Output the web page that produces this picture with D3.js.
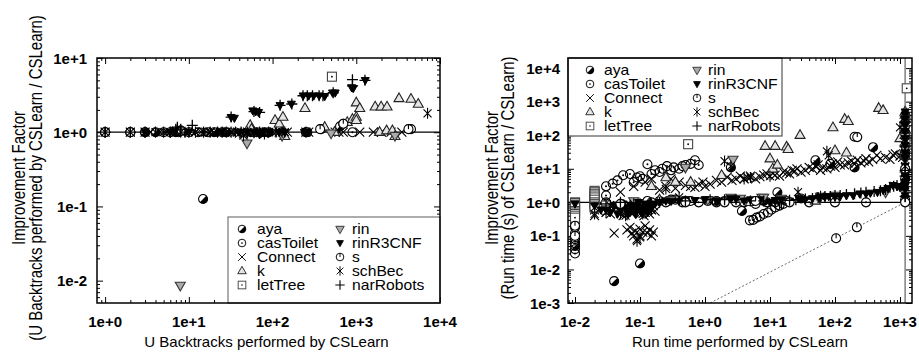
<!DOCTYPE html>
<html>
<head>
<meta charset="utf-8">
<script src="https://cdn.jsdelivr.net/npm/d3@7"></script>
<style>
  body { margin: 0; background: #fff; }
  text { font-family: "Liberation Sans", Arial, Helvetica, sans-serif; fill: #000; }
</style>
</head>
<body>
<svg id="chart" width="919" height="354"></svg>
<script>
// series names, legend order (col 1 then col 2)
const seriesNames = ["aya", "casToilet", "Connect", "k", "letTree", "rin", "rinR3CNF", "s", "schBec", "narRobots"];

// ---- left panel: backtracks vs improvement factor ----
const btAya = [[1,1],[2,1],[3,1],[4,1],[7,1],[8,1.05],[14.8,0.126],[20,1],[28,1],[55,1],[90,1],[250,1],[640,1.2],[700,1.3]];
const btCasToilet = [[1,1],[2,1],[3,1],[5,1],[6,1],[7.5,1],[10,1],[13,1],[17,1],[25,1],[65,1],[80,1],[130,1],[260,1],[380,1.1],[900,1],[4500,1.1]];
const btConnect = [[1,1],[2,1],[3,1],[3.5,1],[4.5,1],[5.5,1],[7,1],[9,1],[12,1],[14,1],[16,1],[18,1],[20,1],[24,1],[28,1],[33,1],[38,1],[45,0.95],[50,1],[55,1],[65,1],[72,1],[85,1],[100,1],[120,1],[150,1],[250,1],[270,1],[560,1],[620,1],[700,1],[1100,1],[1600,1],[2000,1],[2600,1],[3500,1]];
const btK = [[54,1.24],[56,1.1],[107,1.45],[120,1.3],[133,1.6],[140,0.88],[244,2.1],[420,1.17],[550,1.0],[780,1.36],[900,1.5],[1000,1.6],[1000,1.45],[1000,2.5],[1100,2.1],[1680,2.2],[1900,1.0],[1980,2.2],[2300,1.05],[2330,2.2],[2700,1.05],[2900,0.88],[3240,2.85],[4500,2.8],[5500,2.4]];
const btLetTree = [[512,5.6]];
const btRin = [[7.9,0.0086],[49.5,0.71],[60,1.0],[130,0.9],[500,0.97],[2900,0.9]];
const btRinR3CNF = [[1,1],[2,1],[3,1],[6,1],[7,1],[8,1.05],[9,1],[10,1],[25,1],[32,1.59],[35,1.55],[40,1],[50,1],[58,1.95],[60,1],[63,1.9],[68,1.85],[70,0.93],[75,1],[90,1],[120,1],[123,2.3],[140,1],[168,2.4],[232,3.1],[240,1],[260,1],[270,3.1],[310,3.1],[360,3.1],[420,3.05],[520,3.4],[560,3.4],[880,4.0],[920,3.9],[1280,5.0]];
const btS = [[1,1],[2,1],[8,1.05],[370,1.1],[700,1.3],[4200,1.1]];
const btSchBec = [[1,1],[2,1],[3,1],[4,1],[5,1],[6,1],[7,1.05],[8,1],[10,1],[12,1],[15,1],[18,1],[22,1],[25,1],[28,1],[32,1],[36,1],[42,1],[45,0.9],[50,1],[60,1],[70,1],[80,0.95],[90,1],[110,1],[130,1],[140,1],[250,1],[7100,1.8]];
const btNarRobots = [[1,1],[2,1],[3,1],[6,1],[7,1.1],[7.3,1.17],[8,1.1],[9,1.0],[11,1.24],[32,1.6],[60,1.9],[70,1.85],[123,2.3],[170,2.4],[231,3.1],[260,3.1],[300,3.1],[360,3.1],[400,3.1],[530,3.4],[900,4.2],[900,5.1],[1270,5.0]];

// ---- right panel: run time vs improvement factor ----
const rtAya = [[0.01,0.9],[0.01,0.45],[0.01,0.06],[0.01,0.05],[0.02,1.2],[0.03,1.0],[0.04,0.0045],[0.05,0.8],[0.08,0.7],[0.1,0.015],[0.13,1.1],[0.3,1.2],[0.5,1.1],[1.5,1.1],[2.5,11],[3.7,0.55],[8,1.1],[13,2.0],[30,1.3],[50,18],[85,14],[200,11],[385,44],[1200,30],[1200,5],[1200,120]];
const rtCasToilet = [[0.01,0.03],[0.01,0.04],[0.01,0.06],[0.01,0.08],[0.01,0.12],[0.01,0.18],[0.01,0.25],
  [0.03,3.0],[0.03,1.6],[0.038,3.6],[0.045,4.5],[0.055,6.4],[0.07,7],[0.08,4],[0.09,5.5],[0.1,6],[0.11,5],[0.13,13.6],[0.15,7],[0.17,9],[0.2,8],[0.22,10],[0.26,12],[0.3,9],[0.33,11],[0.4,10],[0.45,12],[0.5,13],[0.6,14],[0.7,18],[0.8,13],
  [0.15,1.0],[0.2,1.1],[0.25,1.0],[0.35,1.2],[0.45,1.0],[0.6,1.1],[0.8,1.0],[1.1,1.1],[1.5,1.0],[2.0,1.1],[3,1.0],[4,1.0],[6,0.9],[9,1.0],[12,1.0],[18,1.1],[40,1.0],[100,1.0],[300,1.0],
  [4.9,0.29],[5.5,0.3],[6.2,0.35],[7,0.38],[8,0.45],[9.3,0.5],[10.5,0.6],[12,0.7],[14,0.8],[16,0.9],[200,90],[1200,1.2]];
const rtConnect = [[0.01,0.8],[0.02,0.4],[0.02,0.6],[0.02,1.0],[0.025,0.9],[0.03,0.5],[0.03,0.7],[0.035,0.45],[0.04,0.6],[0.04,0.12],[0.045,0.8],[0.05,0.5],[0.055,0.4],[0.06,0.55],[0.065,0.9],[0.07,0.6],[0.075,0.45],[0.08,0.5],[0.085,0.7],[0.095,0.55],[0.1,0.45],[0.105,0.8],[0.115,0.4],[0.12,0.5],[0.125,0.65],[0.14,0.45],[0.15,0.6],[0.16,0.8],[0.17,0.55],
  [0.063,0.15],[0.07,0.18],[0.075,0.12],[0.08,0.1],[0.085,0.14],[0.09,0.08],[0.1,0.16],[0.1,0.1],[0.11,0.13],[0.12,0.2],[0.13,0.12],[0.14,0.15],[0.16,0.13],[0.15,0.1],
  [0.05,2.0],[0.08,3],[0.12,4],[0.15,5],[0.2,2.3],[0.25,3],[0.3,5],[0.35,2.6],[0.4,4],[0.5,3.2],[0.6,3],[0.7,2.8],[0.8,3.5],[0.93,4],[1.0,3.0],[1.2,3.5],[1.5,4.5],[1.8,4],[2.2,5.6],[2.6,4.5],[3,5],[3.5,6],[4,5],[4.5,5.5],[5,6],[6,5],[7,5.8],[8,6.5],[9,7],[11,7.3],[12,6.5],[14,6],[16,8],[18,7.5],[20,7],[22,9],[24,8.5],[26,10],[30,8],[35,9],[40,11],[45,10],[50,12],[55,13],[60,9],[65,11],[75,10],[85,12],[90,14],[100,11],[110,16],[120,13],[140,13],[160,15],[180,17],[200,14],[220,18],[250,15],[280,17],[300,20],[330,16],[380,19],[440,25],[500,20],[600,22],[700,19],[780,26],[850,28],[1000,24],[1100,22],[1180,3],[1200,6],[1200,15],[1200,40],[1220,70]];
const rtK = [[0.15,3.0],[0.2,1.2],[0.25,5.5],[0.35,4],[0.6,4],[1.8,6.4],[5,1.0],[8.4,47],[10,20],[11,10],[12,47],[13,13],[18,45],[19,38],[29,100],[50,1.1],[93,170],[100,35],[141,300],[150,30],[160,260],[470,640],[550,550],[1000,80],[1200,500],[1200,400],[1200,300],[1200,150],[1200,100],[1200,60],[1200,40],[1200,25],[1200,10]];
const rtLetTree = [[0.01,1.0],[0.01,0.95],[0.01,0.85],[0.01,0.75],[0.01,0.7],[0.01,0.55],[0.01,0.5],[0.01,0.45],[0.01,0.4],[0.01,0.35],[0.02,2.2],[0.02,2.0],[0.02,1.8],[0.02,1.6],[0.02,1.4],[0.02,1.2],[0.02,1.0],[0.02,0.9],[0.02,0.8],[0.02,0.7],[0.03,0.8],[0.03,0.6],[0.55,54],[1270,2500]];
const rtRin = [[0.08,1.1],[0.3,1.2],[0.5,11],[1.1,1.2],[2.5,1.4],[2.7,19],[3.5,1.3],[7.5,1.4],[8,1.4],[15,1.3],[60,1.5],[100,1.6],[600,2.0],[1200,300],[1200,200],[1200,150],[1200,90],[1200,40],[1200,20]];
const rtRinR3CNF = [[0.01,0.9],[0.02,0.8],[0.025,0.6],[0.03,0.6],[0.035,0.5],[0.04,0.8],[0.045,0.45],[0.05,0.6],[0.055,0.9],[0.06,0.7],[0.065,0.45],[0.07,0.5],[0.075,0.8],[0.08,0.6],[0.085,0.45],[0.09,0.8],[0.095,1.0],[0.1,0.6],[0.105,0.5],[0.11,0.7],[0.12,0.9],[0.13,0.5],[0.14,0.6],[0.15,0.7],[0.17,0.9],[0.2,1.0],[0.25,1.1],[0.3,1.1],[0.4,1.1],[0.5,1.2],[0.7,1.15],[1.0,1.2],[1.5,1.1],[2,1.1],[2.5,1.3],[3,1.25],[4,1.1],[5,1.2],[7,1.2],[10,1.0],[12,1.15],[15,1.2],[20,1.1],[28,1.3],[35,1.2],[45,1.3],[58,1.4],[70,1.45],[80,1.5],[100,1.5],[120,1.5],[150,1.6],[190,1.6],[240,1.8],[300,1.8],[350,1.9],[450,2.0],[550,2.3],[650,2.6],[780,3.2],[900,3.0],[1000,2.8],
  [1200,1.0],[1200,1.3],[1200,1.6],[1200,2.5],[1200,3],[1200,4],[1200,6],[1200,8],[1200,12],[1200,20],[1200,30],[1200,50],[1200,80],[1200,130],[1200,200],[1200,300],[1200,400],[1200,500]];
const rtS = [[0.01,0.2],[0.01,0.1],[0.05,0.9],[0.5,1.0],[2,1.0],[6,1.1],[20,1.0],[104,0.085],[217,0.18],[220,88],[1200,1.0],[1200,10]];
const rtSchBec = [[0.02,0.45],[0.02,0.7],[0.03,0.5],[0.035,0.8],[0.05,0.45],[0.06,0.4],[0.07,0.6],[0.08,0.9],[0.09,0.07],[0.1,0.09],[0.11,0.45],[0.12,0.5],[0.13,0.8],[0.15,0.6],[0.25,2.5],[0.4,1.4],[2.0,17],[2.5,12],[4,5],[5,5.5],[10,6],[27,2.0],[60,1.5],[75,33],[80,25],[1000,170],[1200,350],[1200,180],[1200,100],[1200,60],[1200,30],[1200,12],[1200,5],[1200,2]];
const rtNarRobots = [[0.03,0.9],[0.05,1.0],[0.1,0.9],[0.2,1.0],[0.5,1.1],[1.2,1.2],[2,1.2],[3,1.2],[5,1.1],[8,1.1],[12,1.0],[15,0.9],[20,1.15],[25,1.2],[35,1.25],[45,1.3],[55,1.4],[70,1.5],[85,1.5],[100,1.6],[120,1.6],[150,1.7],[200,1.8],[250,1.9],[300,2.0],[400,2.1],[500,2.2],[600,2.4],[700,2.8],[800,3.0],[900,3.2],[1100,3.5],[1200,1.5],[1200,2.2],[1200,6],[1200,9],[1200,45],[1200,250]];

// reference lines of the right panel (timeout bound)
const timeoutX = 1200;
const timeoutLine = [[1.2, 0.001], [1200, 1]];

const btSeries = [btAya, btCasToilet, btConnect, btK, btLetTree, btRin, btRinR3CNF, btS, btSchBec, btNarRobots];
const rtSeries = [rtAya, rtCasToilet, rtConnect, rtK, rtLetTree, rtRin, rtRinR3CNF, rtS, rtSchBec, rtNarRobots];

const svg = d3.select("#chart");

function fmtExp(d) {
  const e = Math.round(Math.log10(d));
  return "1e" + (e < 0 ? "-" : "+") + Math.abs(e);
}

function drawMarker(g, type) {
  const r = 4.5;
  const sw = 1.1;
  switch (type) {
    case "aya":
      g.append("circle").attr("r", r).attr("fill", "#fff").attr("stroke", "#000").attr("stroke-width", sw);
      g.append("path").attr("d", d3.arc()({innerRadius: 0, outerRadius: r, startAngle: Math.PI / 4, endAngle: Math.PI * 5 / 4})).attr("fill", "#000");
      break;
    case "casToilet":
      g.append("circle").attr("r", r).attr("fill", "none").attr("stroke", "#000").attr("stroke-width", sw);
      g.append("circle").attr("r", 1).attr("fill", "#000");
      break;
    case "Connect":
      g.append("path").attr("d", "M-4.5,-4.5L4.5,4.5M-4.5,4.5L4.5,-4.5").attr("stroke", "#000").attr("stroke-width", sw);
      break;
    case "k":
      g.append("path").attr("d", "M0,-5.5L5,3.2L-5,3.2Z").attr("fill", "#e4e4e4").attr("stroke", "#222").attr("stroke-width", sw);
      break;
    case "letTree":
      g.append("rect").attr("x", -4.5).attr("y", -4.5).attr("width", 9).attr("height", 9).attr("fill", "#fff").attr("stroke", "#444").attr("stroke-width", sw);
      g.append("circle").attr("r", 0.9).attr("fill", "#000");
      break;
    case "rin":
      g.append("path").attr("d", "M-5,-3.2L5,-3.2L0,5.5Z").attr("fill", "#aaa").attr("stroke", "#333").attr("stroke-width", sw);
      break;
    case "rinR3CNF":
      g.append("path").attr("d", "M-4,-2.8L4,-2.8L0,4.4Z").attr("fill", "#000").attr("stroke", "#000");
      break;
    case "s":
      g.append("circle").attr("r", r).attr("fill", "#fff").attr("stroke", "#000").attr("stroke-width", sw);
      g.append("path").attr("d", "M0,-4.5V0").attr("stroke", "#000").attr("stroke-width", sw);
      break;
    case "schBec":
      g.append("path").attr("d", "M-4,-4L4,4M-4,4L4,-4M0,-5.6V5.6").attr("stroke", "#000").attr("stroke-width", sw);
      break;
    case "narRobots":
      g.append("path").attr("d", "M-5.5,0H5.5M0,-5.5V5.5").attr("stroke", "#000").attr("stroke-width", 1.3);
      break;
  }
}

function drawPanel(cfg) {
  const x = d3.scaleLog().domain(cfg.xDomain).range([cfg.left, cfg.right]);
  const y = d3.scaleLog().domain(cfg.yDomain).range([cfg.bottom, cfg.top]);
  const panel = svg.append("g");
  const clipId = "clip" + cfg.id;
  svg.append("clipPath").attr("id", clipId).append("rect")
    .attr("x", cfg.left).attr("y", cfg.top)
    .attr("width", cfg.right - cfg.left).attr("height", cfg.bottom - cfg.top);

  // minor + major ticks on all four sides, pointing inward
  const minor = (dom, majors) => {
    const out = [];
    majors.concat([majors[0] / 10, majors[majors.length - 1] * 10]).forEach(m => {
      for (let k = 2; k <= 9; k++) {
        const v = m * k;
        if (v > dom[0] && v < dom[1]) out.push(v);
      }
    });
    return out;
  };
  const xMinor = minor(cfg.xDomain, cfg.xTicks);
  const yMinor = minor(cfg.yDomain, cfg.yTicks);
  const tickAxes = [
    [d3.axisBottom(x).tickValues(cfg.xTicks).tickSize(-6), cfg.bottom, "x"],
    [d3.axisBottom(x).tickValues(xMinor).tickSize(-3), cfg.bottom, "x"],
    [d3.axisTop(x).tickValues(cfg.xTicks).tickSize(-6), cfg.top, "x"],
    [d3.axisTop(x).tickValues(xMinor).tickSize(-3), cfg.top, "x"],
    [d3.axisLeft(y).tickValues(cfg.yTicks).tickSize(-6), cfg.left, "y"],
    [d3.axisLeft(y).tickValues(yMinor).tickSize(-3), cfg.left, "y"],
    [d3.axisRight(y).tickValues(cfg.yTicks).tickSize(-6), cfg.right, "y"],
    [d3.axisRight(y).tickValues(yMinor).tickSize(-3), cfg.right, "y"]
  ];
  tickAxes.forEach(([ax, pos, dir]) => {
    const g = panel.append("g")
      .attr("transform", dir === "x" ? `translate(0,${pos})` : `translate(${pos},0)`)
      .call(ax.tickSizeOuter(0).tickFormat(""));
    g.select(".domain").remove();
    g.selectAll("line").attr("stroke", "#000");
  });

  // tick labels
  panel.selectAll(".xl").data(cfg.xTicks).join("text")
    .attr("x", d => x(d)).attr("y", cfg.bottom + 24)
    .attr("text-anchor", "middle").attr("font-size", 15).attr("font-weight", "bold")
    .text(fmtExp);
  panel.selectAll(".yl").data(cfg.yTicks).join("text")
    .attr("x", cfg.left - cfg.yLabelGap).attr("y", d => y(d))
    .attr("text-anchor", "end").attr("dominant-baseline", "central")
    .attr("font-size", 15).attr("font-weight", "bold")
    .text(fmtExp);

  // reference lines
  const plot = panel.append("g").attr("clip-path", `url(#${clipId})`);
  plot.append("line").attr("x1", cfg.left).attr("x2", cfg.right)
    .attr("y1", y(1)).attr("y2", y(1)).attr("stroke", "#000").attr("stroke-width", 1.2);
  if (cfg.timeout) {
    plot.append("line").attr("x1", x(timeoutX)).attr("x2", x(timeoutX))
      .attr("y1", cfg.top).attr("y2", cfg.bottom).attr("stroke", "#888").attr("stroke-width", 1.6);
    plot.append("path").datum(timeoutLine)
      .attr("d", d3.line().x(d => x(d[0])).y(d => y(d[1])))
      .attr("fill", "none").attr("stroke", "#444").attr("stroke-width", 0.8).attr("stroke-dasharray", "2,2");
  }

  // points
  cfg.series.forEach((pts, i) => {
    const type = seriesNames[i];
    plot.append("g").selectAll("g").data(pts).join("g")
      .attr("transform", d => `translate(${x(d[0])},${y(d[1])})`)
      .each(function () { drawMarker(d3.select(this), type); });
  });

  // legend
  const lg = panel.append("g");
  lg.append("rect").attr("x", cfg.legend.x0).attr("y", cfg.legend.y0)
    .attr("width", cfg.legend.x1 - cfg.legend.x0).attr("height", cfg.legend.y1 - cfg.legend.y0)
    .attr("fill", "#fff").attr("stroke", cfg.legend.stroke).attr("stroke-width", 1.2);
  seriesNames.forEach((name, i) => {
    const col = Math.floor(i / 5), row = i % 5;
    const cy = cfg.legend.rowY + row * 14;
    const m = lg.append("g").attr("transform", `translate(${cfg.legend.markX[col]},${cy}) scale(0.85)`);
    drawMarker(m, name);
    lg.append("g").attr("transform", `translate(${cfg.legend.textX[col]},${cy + 5}) scale(1.12,1)`)
      .append("text").attr("font-size", 14).text(name);
  });

  // frame
  panel.append("rect").attr("x", cfg.left).attr("y", cfg.top)
    .attr("width", cfg.right - cfg.left).attr("height", cfg.bottom - cfg.top)
    .attr("fill", "none").attr("stroke", "#000").attr("stroke-width", 1.5);

  // axis titles
  panel.append("text").attr("x", (cfg.left + cfg.right) / 2 + cfg.xTitleShift).attr("y", 347)
    .attr("text-anchor", "middle").attr("font-size", 15).text(cfg.xTitle);
  cfg.yTitle.forEach((t, i) => {
    panel.append("g").attr("transform", `translate(${cfg.yTitleX[i]},178) scale(1.2,1) rotate(-90)`)
      .append("text").attr("text-anchor", "middle").attr("dominant-baseline", "central")
      .attr("font-size", 15).text(t);
  });
}

drawPanel({
  id: "bt", series: btSeries,
  left: 97, right: 440, top: 58, bottom: 303,
  xDomain: [0.8, 1e4], yDomain: [0.005, 10],
  xTicks: [1, 10, 100, 1e3, 1e4], yTicks: [0.01, 0.1, 1, 10],
  yLabelGap: 10, xTitleShift: -2,
  xTitle: "U Backtracks performed by CSLearn",
  yTitle: ["Improvement Factor", "(U Backtracks performed by CSLearn / CSLearn)"],
  yTitleX: [19, 36],
  timeout: false,
  legend: {x0: 228, x1: 440, y0: 217, y1: 303, stroke: "#777", rowY: 229, markX: [242, 340], textX: [257, 352]}
});

drawPanel({
  id: "rt", series: rtSeries,
  left: 568, right: 912, top: 58, bottom: 303,
  xDomain: [0.0078, 1530], yDomain: [0.001, 20000],
  xTicks: [0.01, 0.1, 1, 10, 100, 1000], yTicks: [0.001, 0.01, 0.1, 1, 10, 100, 1000, 10000],
  yLabelGap: 8, xTitleShift: 0,
  xTitle: "Run time performed by CSLearn",
  yTitle: ["Improvement Factor", "(Run time (s) of CSLearn / CSLearn)"],
  yTitleX: [492, 508],
  timeout: true,
  legend: {x0: 568, x1: 782, y0: 58, y1: 136, stroke: "#555", rowY: 70, markX: [590, 697], textX: [604, 708]}
});
</script>
</body>
</html>
